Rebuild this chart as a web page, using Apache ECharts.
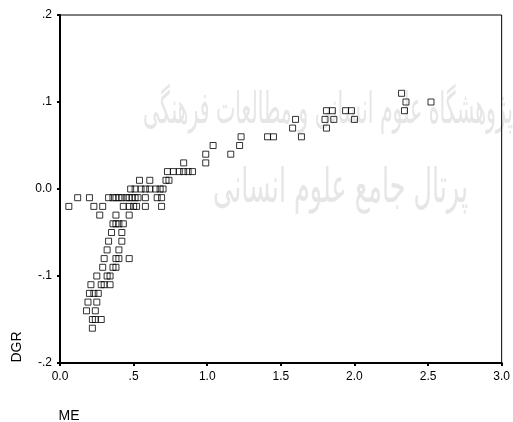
<!DOCTYPE html>
<html><head><meta charset="utf-8">
<script src="https://cdn.jsdelivr.net/npm/echarts@6/dist/echarts.min.js"></script>
<style>html,body{margin:0;padding:0;background:#fff}#c{width:513px;height:422px}</style>
</head><body><div id="c"></div>
<script>
// ME values (x) and DGR values (y)
const meValues = [
  2.32,
  2.35, 2.52,
  1.81, 1.85, 1.94, 1.98, 2.34,
  1.60, 1.80, 1.86, 2.00,
  1.58, 1.81,
  1.23, 1.41, 1.45, 1.64,
  1.04, 1.22,
  0.99, 1.16,
  0.84, 0.99,
  0.73, 0.77, 0.81, 0.84, 0.87, 0.90,
  0.54, 0.61, 0.72, 0.74,
  0.48, 0.51, 0.55, 0.58, 0.61, 0.65, 0.68, 0.70,
  0.12, 0.20, 0.33, 0.36, 0.38, 0.40, 0.42, 0.45, 0.47, 0.49, 0.51, 0.53, 0.58, 0.66, 0.69,
  0.06, 0.23, 0.29, 0.43, 0.47, 0.50, 0.52, 0.58, 0.69,
  0.27, 0.38, 0.47,
  0.36, 0.38, 0.40, 0.43,
  0.35, 0.42,
  0.33, 0.42,
  0.32, 0.40,
  0.30, 0.38, 0.40, 0.47,
  0.29, 0.36, 0.38,
  0.25, 0.32, 0.34,
  0.21, 0.28, 0.30, 0.34,
  0.20, 0.23, 0.26,
  0.19, 0.25,
  0.18, 0.24,
  0.22, 0.24, 0.28,
  0.22
];
const dgrValues = [
  0.11,
  0.10, 0.10,
  0.09, 0.09, 0.09, 0.09, 0.09,
  0.08, 0.08, 0.08, 0.08,
  0.07, 0.07,
  0.06, 0.06, 0.06, 0.06,
  0.05, 0.05,
  0.04, 0.04,
  0.03, 0.03,
  0.02, 0.02, 0.02, 0.02, 0.02, 0.02,
  0.01, 0.01, 0.01, 0.01,
  0.00, 0.00, 0.00, 0.00, 0.00, 0.00, 0.00, 0.00,
  -0.01, -0.01, -0.01, -0.01, -0.01, -0.01, -0.01, -0.01, -0.01, -0.01, -0.01, -0.01, -0.01, -0.01, -0.01,
  -0.02, -0.02, -0.02, -0.02, -0.02, -0.02, -0.02, -0.02, -0.02,
  -0.03, -0.03, -0.03,
  -0.04, -0.04, -0.04, -0.04,
  -0.05, -0.05,
  -0.06, -0.06,
  -0.07, -0.07,
  -0.08, -0.08, -0.08, -0.08,
  -0.09, -0.09, -0.09,
  -0.10, -0.10, -0.10,
  -0.11, -0.11, -0.11, -0.11,
  -0.12, -0.12, -0.12,
  -0.13, -0.13,
  -0.14, -0.14,
  -0.15, -0.15, -0.15,
  -0.16
];
const xTickLabels = {'0': '0.0', '0.5': '.5', '1': '1.0', '1.5': '1.5', '2': '2.0', '2.5': '2.5', '3': '3.0'};
const yTickLabels = {'-0.2': '-.2', '-0.1': '-.1', '0': '0.0', '0.1': '.1', '0.2': '.2'};
const xName = 'ME';
const yName = 'DGR';
const watermark1 = 'پژوهشگاه علوم انسانی و مطالعات فرهنگی';
const watermark2 = 'پرتال جامع علوم انسانی';

const points = meValues.map((x, i) => [x, dgrValues[i]]);
const font = 'Arial, "Liberation Sans", sans-serif';

// measure watermark text width to fit a target span
const mc = document.createElement('canvas').getContext('2d');
function fitScale(text, fontStr, target) {
  mc.font = fontStr;
  const w = mc.measureText(text).width;
  return w > 0 ? target / w : 1;
}
const wmFont1 = '44px "DejaVu Sans"';
const wmFont2 = '48px "DejaVu Sans"';
const s1 = fitScale(watermark1, wmFont1, 370);
const s2 = fitScale(watermark2, wmFont2, 255);

const chart = echarts.init(document.getElementById('c'), null, {renderer: 'canvas'});
chart.setOption({
  animation: false,
  backgroundColor: '#fff',
  grid: {left: 60, right: 6, top: 15, bottom: 59, show: true, borderColor: '#000', borderWidth: 1},
  xAxis: {
    type: 'value', min: 0, max: 3, interval: 0.5,
    axisLine: {show: true, onZero: false, lineStyle: {color: '#000', width: 2}},
    axisTick: {show: true, length: 3, lineStyle: {color: '#000', width: 2}},
    splitLine: {show: false},
    axisLabel: {color: '#000', fontFamily: font, fontSize: 12, margin: 8,
      formatter: v => xTickLabels[String(Math.round(v * 10) / 10)] || ''}
  },
  yAxis: {
    type: 'value', min: -0.2, max: 0.2, interval: 0.1,
    axisLine: {show: true, onZero: false, lineStyle: {color: '#000', width: 2}},
    axisTick: {show: true, length: 3, lineStyle: {color: '#000', width: 2}},
    splitLine: {show: false},
    axisLabel: {color: '#000', fontFamily: font, fontSize: 12, margin: 8,
      formatter: v => yTickLabels[String(Math.round(v * 10) / 10)] || ''}
  },
  graphic: [
    {type: 'text', x: 513, y: 112, scaleX: s1, silent: true, z: -10,
      style: {text: watermark1, fill: '#e6e6e6', font: wmFont1, align: 'right', verticalAlign: 'middle'}},
    {type: 'text', x: 468, y: 190, scaleX: s2, silent: true, z: -10,
      style: {text: watermark2, fill: '#e6e6e6', font: wmFont2, align: 'right', verticalAlign: 'middle'}},
    {type: 'text', x: 17, y: 347, rotation: Math.PI / 2, silent: true,
      style: {text: yName, fill: '#000', font: '14px Arial, "Liberation Sans", sans-serif', align: 'center', verticalAlign: 'middle'}},
    {type: 'text', x: 69, y: 416, silent: true,
      style: {text: xName, fill: '#000', font: '14px Arial, "Liberation Sans", sans-serif', align: 'center', verticalAlign: 'middle'}}
  ],
  series: [{
    type: 'scatter',
    data: points,
    symbol: 'rect',
    symbolSize: 6,
    itemStyle: {color: 'rgba(255,255,255,0)', borderColor: '#000', borderWidth: 1}
  }]
});
</script></body></html>
